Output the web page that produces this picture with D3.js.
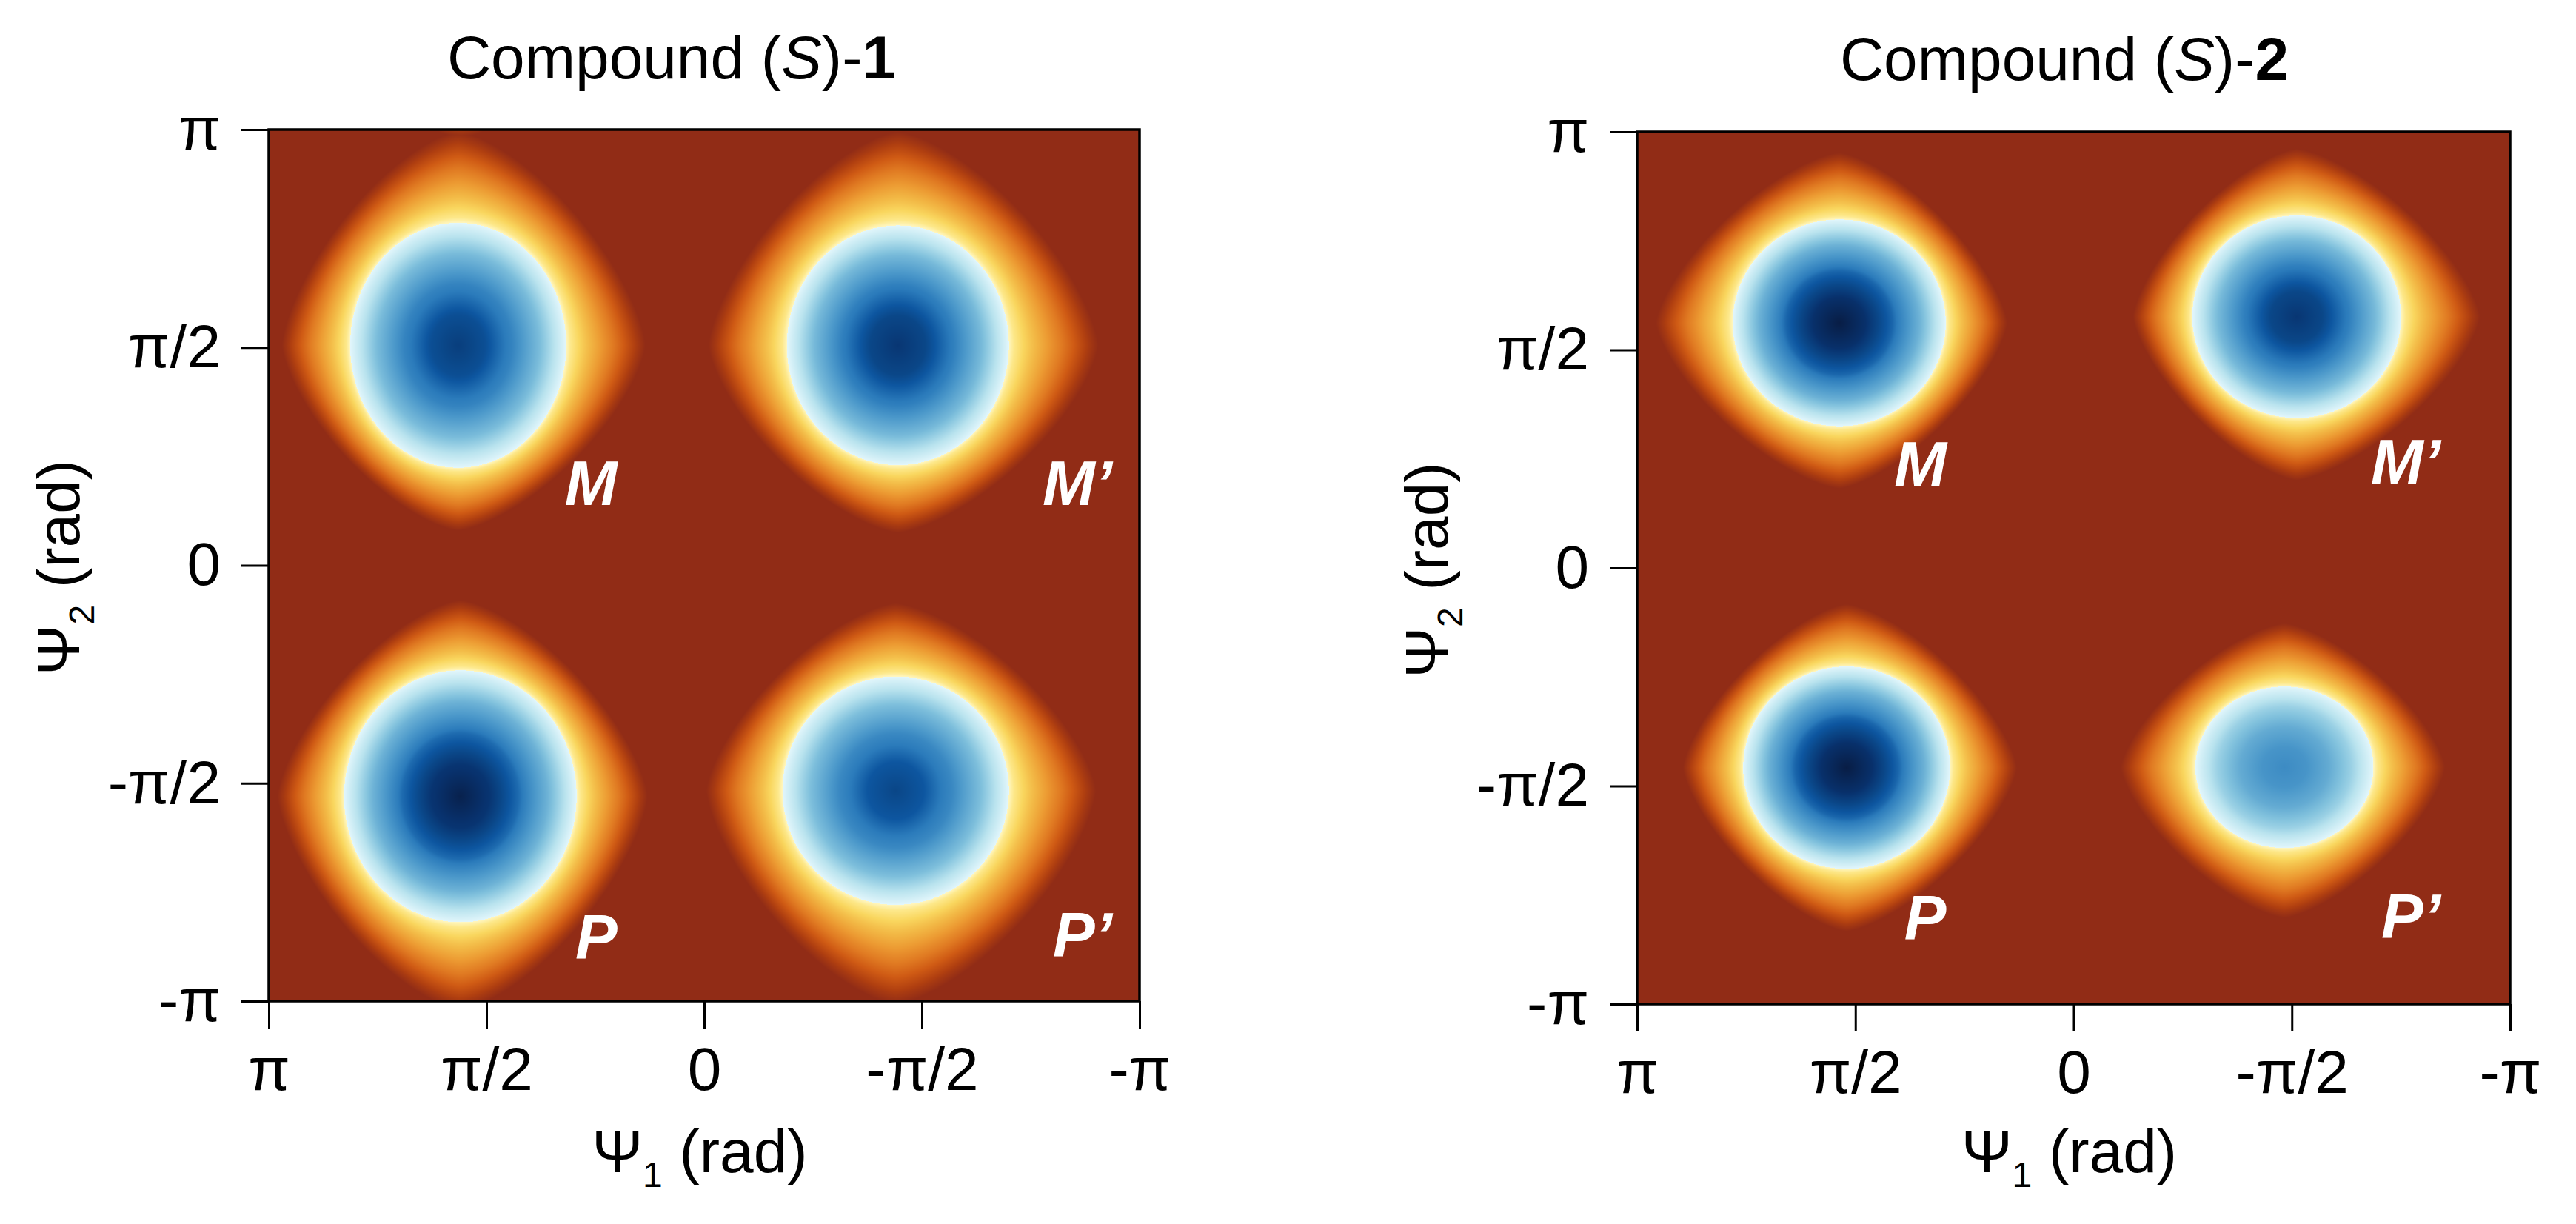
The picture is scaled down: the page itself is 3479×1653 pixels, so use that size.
<!DOCTYPE html>
<html>
<head>
<meta charset="utf-8">
<script src="https://cdn.jsdelivr.net/npm/d3@7"></script>
<style>
  body { margin: 0; background: #fff; }
  svg { display: block; }
  text { font-family: "Liberation Sans", Arial, Helvetica, sans-serif; }
</style>
</head>
<body>
<div id="chart"></div>
<script>
// all angles are in units of pi
var tickValues = [1, 0.5, 0, -0.5, -1];
var tickLabels = ["π", "π/2", "0", "-π/2", "-π"];

// colour of the relative energy (0 = deepest minimum, 1 = clipped plateau)
var colorStops = [0, 0.05, 0.10, 0.14, 0.20, 0.29, 0.43, 0.55, 0.665,
                  0.667, 0.69, 0.733, 0.783, 0.833, 0.883, 0.927, 0.967, 1];
var colorHexes = ["#081d45", "#08326e", "#0a4687", "#0d56a0", "#2b7bbb", "#4b98ca", "#82c2dd", "#b9e3ee", "#e2f6fb",
                  "#fff6c0", "#fde88a", "#f9d65e", "#f2b845", "#ec9a32", "#e07a22", "#cf5a14", "#b03f10", "#912c16"];

// inside the blue core: fraction of the way from well depth to the rim, against radius
var coreRadius = [0, 0.25, 0.5, 0.75, 1];
var coreFraction = [0, 0.07, 0.25, 0.56, 1];
var rimLevel = 0.665;

// outside the core: fraction of the way from the rim to the plateau
var haloPosition = [0, 0.25, 0.5, 0.75, 0.9, 1];
var haloFraction = [0, 0.3, 0.56, 0.8, 0.93, 1];

// wells: name, psi1, psi2, depth, core radius psi1, core radius psi2,
//        outer reach toward +psi1, -psi1, +psi2, -psi2
var wells1 = [
  ["M",  0.565,  0.505, 0.08, 0.248, 0.281, 0.405, 0.430, 0.49, 0.425],
  ["M'", -0.445, 0.505, 0.06, 0.255, 0.275, 0.435, 0.460, 0.49, 0.430],
  ["P",  0.560, -0.530, 0.01, 0.267, 0.289, 0.420, 0.430, 0.45, 0.490],
  ["P'", -0.440, -0.517, 0.10, 0.260, 0.262, 0.435, 0.460, 0.43, 0.490]
];
var wells2 = [
  ["M",  0.537,  0.562, 0.00, 0.244, 0.237, 0.420, 0.385, 0.390, 0.380],
  ["M'", -0.511, 0.576, 0.06, 0.239, 0.232, 0.375, 0.420, 0.385, 0.375],
  ["P",  0.520, -0.458, 0.00, 0.237, 0.232, 0.375, 0.390, 0.375, 0.375],
  ["P'", -0.483, -0.457, 0.25, 0.204, 0.185, 0.375, 0.368, 0.330, 0.345]
];
// shape exponents: core, outer edge
var shape1 = [2, 1.45];
var shape2 = [2, 1.42];

// well labels: text, psi1 of left edge, psi2 of baseline
var labels1 = [["M", 0.320, 0.139], ["M’", -0.777, 0.139], ["P", 0.296, -0.903], ["P’", -0.801, -0.898]];
var labels2 = [["M", 0.411, 0.189], ["M’", -0.681, 0.193], ["P", 0.388, -0.852], ["P’", -0.705, -0.849]];

var panels = [
  {x0: 363, y0: 175, w: 1176, h: 1177, num: "1", wells: wells1, shape: shape1, labels: labels1, titleX: 907, titleY: 106},
  {x0: 2211, y0: 178, w: 1179, h: 1178, num: "2", wells: wells2, shape: shape2, labels: labels2, titleX: 2788, titleY: 108}
];

var svg = d3.select("#chart").append("svg")
  .attr("width", 3479)
  .attr("height", 1653);

var colorScale = d3.scaleLinear().domain(colorStops).range(colorHexes).clamp(true);
var lutSize = 2048;
var lut = d3.range(lutSize).map(i => d3.rgb(colorScale(i / (lutSize - 1))));
var coreScale = d3.scaleLinear().domain(coreRadius).range(coreFraction).clamp(true);
var haloScale = d3.scaleLinear().domain(haloPosition).range(haloFraction).clamp(true);

function wrap(d) {
  // nearest periodic image
  d = (d + 1) % 2;
  if (d < 0) d += 2;
  return d - 1;
}

function energy(p1, p2, wells, shape) {
  var best = 1, pc = shape[0], po = shape[1];
  wells.forEach(w => {
    var dx = wrap(p1 - w[1]), dy = wrap(p2 - w[2]);
    var ax = dx >= 0 ? w[6] : w[7];
    var ay = dy >= 0 ? w[8] : w[9];
    var s = Math.pow(Math.pow(Math.abs(dx) / w[4], pc) + Math.pow(Math.abs(dy) / w[5], pc), 1 / pc);
    var e;
    if (s <= 1) {
      e = w[3] + (rimLevel - w[3]) * coreScale(s);
    } else {
      var t = Math.pow(Math.pow(Math.abs(dx) / ax, po) + Math.pow(Math.abs(dy) / ay, po), 1 / po);
      var u = s > t ? t * (s - 1) / (s - t) : 1;
      e = 0.667 + 0.333 * haloScale(u);
    }
    if (e < best) best = e;
  });
  return best;
}

panels.forEach(p => {
  var x = d3.scaleLinear().domain([1, -1]).range([p.x0, p.x0 + p.w]);
  var y = d3.scaleLinear().domain([-1, 1]).range([p.y0 + p.h, p.y0]);

  // heat map
  var canvas = document.createElement("canvas");
  canvas.width = p.w;
  canvas.height = p.h;
  var ctx = canvas.getContext("2d");
  var img = ctx.createImageData(p.w, p.h);
  for (var j = 0; j < p.h; j++) {
    var p2 = y.invert(p.y0 + j + 0.5);
    for (var i = 0; i < p.w; i++) {
      var p1 = x.invert(p.x0 + i + 0.5);
      var e = energy(p1, p2, p.wells, p.shape);
      var c = lut[Math.round(e * (lutSize - 1))];
      var k = (j * p.w + i) * 4;
      img.data[k] = c.r;
      img.data[k + 1] = c.g;
      img.data[k + 2] = c.b;
      img.data[k + 3] = 255;
    }
  }
  ctx.putImageData(img, 0, 0);

  svg.append("image")
    .attr("x", p.x0)
    .attr("y", p.y0)
    .attr("width", p.w)
    .attr("height", p.h)
    .attr("preserveAspectRatio", "none")
    .attr("href", canvas.toDataURL());

  // well labels
  svg.append("g").selectAll("text")
    .data(p.labels)
    .enter()
    .append("text")
    .attr("x", d => x(d[1]))
    .attr("y", d => y(d[2]))
    .attr("fill", "#fff")
    .attr("font-size", 85)
    .attr("font-weight", "bold")
    .attr("font-style", "italic")
    .text(d => d[0]);

  // frame
  svg.append("rect")
    .attr("x", p.x0)
    .attr("y", p.y0)
    .attr("width", p.w)
    .attr("height", p.h)
    .attr("fill", "none")
    .attr("stroke", "#000")
    .attr("stroke-width", 3.5);

  // axes
  var xAxis = d3.axisBottom(x)
    .tickValues(tickValues)
    .tickFormat((d, i) => tickLabels[i])
    .tickSize(37)
    .tickPadding(25);
  var yAxis = d3.axisLeft(y)
    .tickValues(tickValues.slice().reverse())
    .tickFormat((d, i) => tickLabels.slice().reverse()[i])
    .tickSize(37)
    .tickPadding(28);

  var gx = svg.append("g")
    .attr("transform", `translate(0, ${p.y0 + p.h})`)
    .call(xAxis);
  var gy = svg.append("g")
    .attr("transform", `translate(${p.x0}, 0)`)
    .call(yAxis);
  [gx, gy].forEach(g => {
    g.select(".domain").remove();
    g.selectAll(".tick line").attr("stroke", "#000").attr("stroke-width", 3);
    g.selectAll(".tick text")
      .attr("fill", "#000")
      .attr("font-size", 82)
      .attr("font-family", "'Liberation Sans', Arial, sans-serif");
  });

  // axis titles
  var xt = svg.append("text")
    .attr("x", p.x0 + p.w / 2 - 6)
    .attr("y", 1583)
    .attr("text-anchor", "middle")
    .attr("fill", "#000")
    .attr("font-size", 82);
  xt.append("tspan").text("Ψ");
  xt.append("tspan").attr("font-size", 48).attr("dy", 20).text("1");
  xt.append("tspan").attr("dy", -20).text(" (rad)");

  var yt = svg.append("text")
    .attr("transform", `translate(${p.x0 - 256}, ${p.y0 + p.h / 2 + 3}) rotate(-90)`)
    .attr("text-anchor", "middle")
    .attr("fill", "#000")
    .attr("font-size", 82);
  yt.append("tspan").text("Ψ");
  yt.append("tspan").attr("font-size", 48).attr("dy", 20).text("2");
  yt.append("tspan").attr("dy", -20).text(" (rad)");

  // title
  var tt = svg.append("text")
    .attr("x", p.titleX)
    .attr("y", p.titleY)
    .attr("text-anchor", "middle")
    .attr("fill", "#000")
    .attr("font-size", 82);
  tt.append("tspan").text("Compound (");
  tt.append("tspan").attr("font-style", "italic").text("S");
  tt.append("tspan").text(")-");
  tt.append("tspan").attr("font-weight", "bold").text(p.num);
});
</script>
</body>
</html>
